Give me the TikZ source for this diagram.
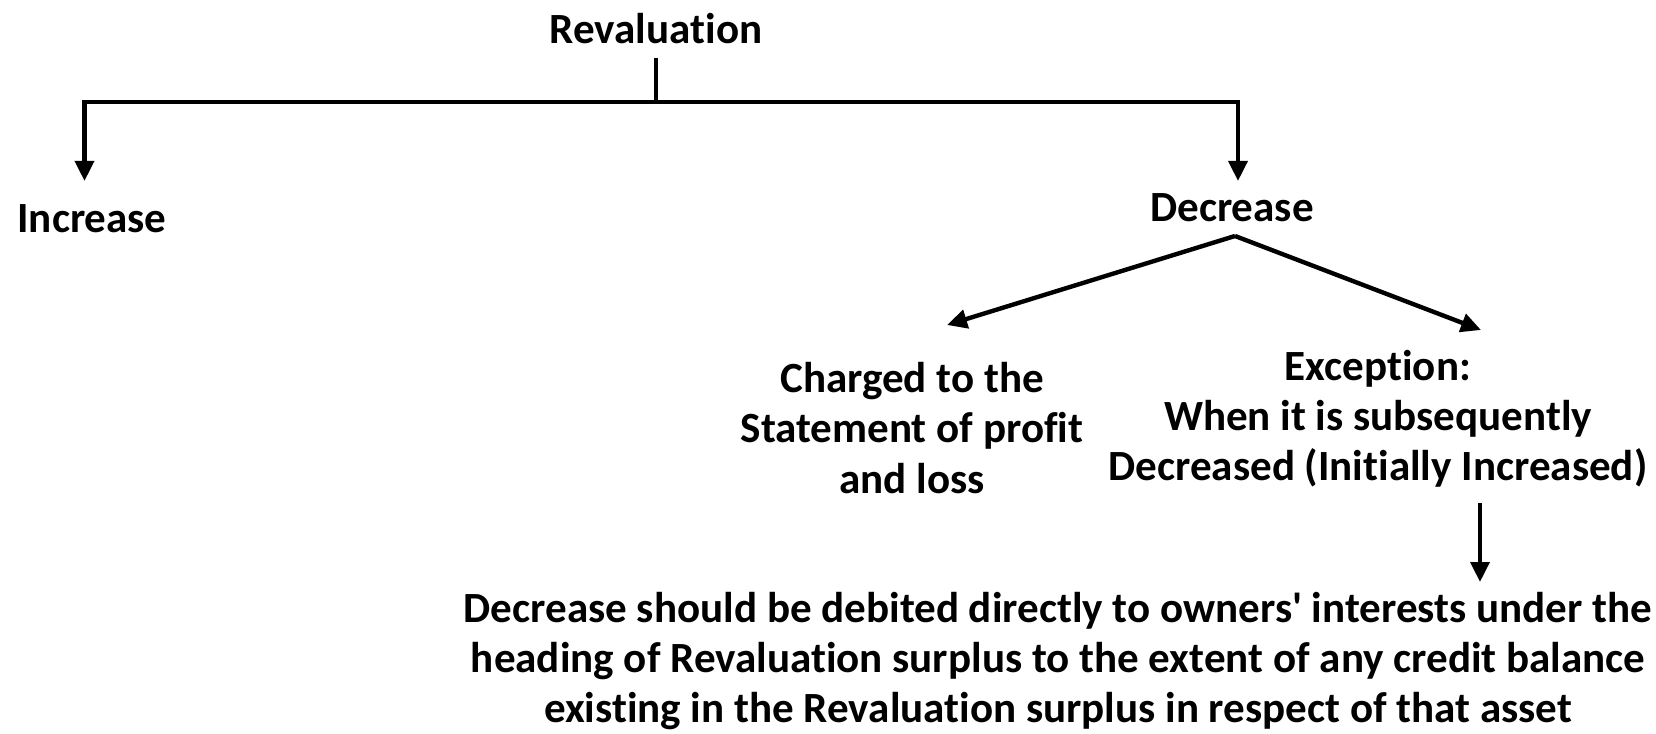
\documentclass[tikz,border=0pt]{standalone}
\usepackage{fontspec}
\setmainfont{Carlito}[Ligatures=NoCommon]
\usepackage{tikz}
\usetikzlibrary{arrows.meta}

\tikzset{
  lbl/.style={align=center, inner sep=0.75pt, font=\fontsize{32.3}{37.6}\selectfont\bfseries},
  conn/.style={line width=3.3pt},
  arr/.style={conn, -{Triangle[length=15pt, width=14pt]}}
}

\begin{document}
\begin{tikzpicture}[x=0.75pt,y=0.75pt,yscale=-1,xscale=1]
        \useasboundingbox (0,0) rectangle (1656,734);

        % labels
        \node[lbl] (reval) at (656,28.5) {Revaluation};
        \node[lbl] (incr) at (92,218.5) {Increase};
        \node[lbl] (decr) at (1232,208) {Decrease};
        \node[lbl] (charged) at (912,428) {Charged to the\\Statement of profit\\and loss};
        \node[lbl] (except) at (1378,419) {Exception:\\When it is subsequently\\Decreased (Initially Increased)};
        \node[lbl] (debit) at (1058,661) {Decrease should be debited directly to owners\textquotesingle{} interests under the\\heading of Revaluation surplus to the extent of any credit balance\\existing in the Revaluation surplus in respect of that asset};

        % connectors
        \coordinate (split) at (656,102);
        \coordinate (incrtip) at (84.5,181);
        \coordinate (decrtip) at (1238,181);
        \coordinate (decrfoot) at (1235,236);
        \coordinate (chargedtip) at (947,325);
        \coordinate (excepttip) at (1481,330);
        \coordinate (excepttail) at (1480,503);
        \coordinate (debittip) at (1480,582);
        \draw[conn] (656,58) -- (split);
        \draw[arr] (split) -| (incrtip);
        \draw[arr] (split) -| (decrtip);
        \draw[arr] (decrfoot) -- (chargedtip);
        \draw[arr] (decrfoot) -- (excepttip);
        \draw[arr] (excepttail) -- (debittip);
\end{tikzpicture}
\end{document}
